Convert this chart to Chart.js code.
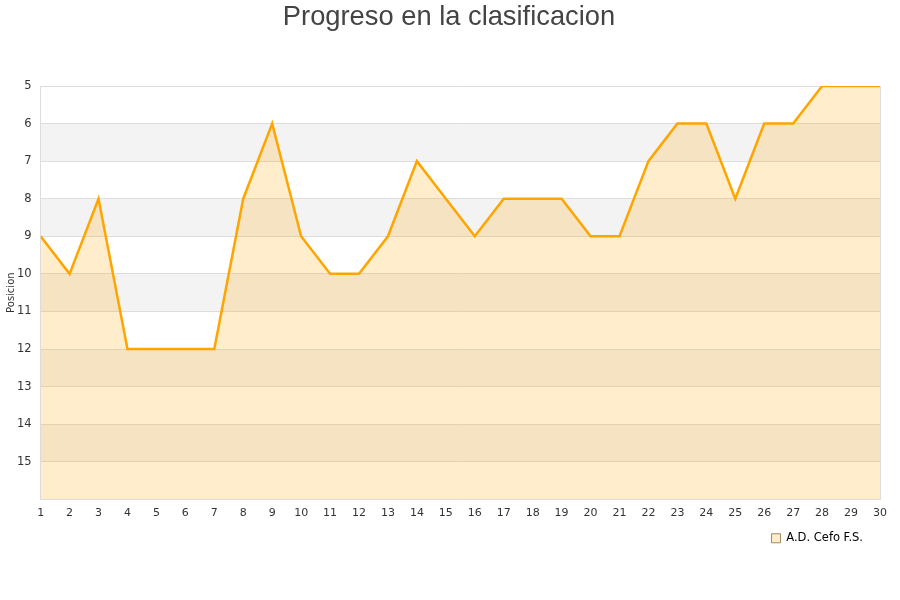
<!DOCTYPE html>
<html>
<head>
<meta charset="utf-8">
<script src="https://cdn.jsdelivr.net/npm/chart.js@4/dist/chart.umd.min.js"></script>
<style>
  html, body { margin: 0; padding: 0; background: #fff; }
  #wrap { width: 900px; height: 600px; }
</style>
</head>
<body>
<div id="wrap"><canvas id="chart"></canvas></div>
<script>
// Jornadas y posicion del equipo
const jornadas = [1,2,3,4,5,6,7,8,9,10,11,12,13,14,15,16,17,18,19,20,21,22,23,24,25,26,27,28,29,30];
const posicion = [9,10,8,12,12,12,12,8,6,9,10,10,9,7,8,9,8,8,8,9,9,7,6,6,8,6,6,5,5,5];
const equipo = 'A.D. Cefo F.S.';
const titulo = 'Progreso en la clasificacion';
const posMin = 5;
const posMax = 16;

// bandas grises alternas detras del grafico
const bandas = {
  id: 'bandas',
  beforeDraw(chart) {
    const { ctx, chartArea, scales } = chart;
    ctx.save();
    ctx.fillStyle = '#f3f3f3';
    for (let v = posMin + 1; v < posMax; v += 2) {
      const y1 = scales.y.getPixelForValue(v);
      const y2 = scales.y.getPixelForValue(v + 1);
      ctx.fillRect(chartArea.left, Math.min(y1, y2), chartArea.right - chartArea.left, Math.abs(y2 - y1));
    }
    ctx.restore();
  }
};

// titulo centrado en todo el lienzo, borde derecho y leyenda un poco mas arriba
const extras = {
  id: 'extras',
  afterLayout(chart) {
    chart.legend.top -= 3;
    chart.legend.bottom -= 3;
  },
  afterDraw(chart) {
    const { ctx, chartArea } = chart;
    ctx.save();
    ctx.strokeStyle = '#ddd';
    ctx.lineWidth = 1;
    ctx.beginPath();
    ctx.moveTo(chartArea.right + 0.5, chartArea.top);
    ctx.lineTo(chartArea.right + 0.5, chartArea.bottom);
    ctx.stroke();
    ctx.fillStyle = '#444';
    ctx.font = '27.3px "Liberation Sans"';
    ctx.textAlign = 'center';
    ctx.textBaseline = 'alphabetic';
    ctx.fillText(titulo, chart.width / 2 - 1, 25);
    ctx.restore();
  }
};

let ctx = document.getElementById('chart').getContext('2d');
let chart = new Chart(ctx, {
  type: 'line',
  data: {
    labels: jornadas,
    datasets: [{
      label: equipo,
      data: posicion,
      borderColor: '#ffa500',
      backgroundColor: 'rgba(255,165,0,0.2)',
      borderWidth: 2.5,
      pointRadius: 0,
      tension: 0,
      clip: 0,
      fill: 'start'
    }]
  },
  options: {
    responsive: true,
    maintainAspectRatio: false,
    animation: false,
    layout: { padding: { left: 5, right: 20, top: 86, bottom: 43 } },
    plugins: {
      title: { display: false },
      legend: {
        position: 'bottom',
        align: 'end',
        labels: {
          boxWidth: 9,
          boxHeight: 9,
          padding: 17,
          color: '#000',
          font: { family: 'DejaVu Sans', size: 11.5 },
          generateLabels(chart) {
            return [{
              text: equipo,
              fillStyle: 'rgba(255,165,0,0.2)',
              strokeStyle: '#a08860',
              lineWidth: 1,
              datasetIndex: 0
            }];
          }
        }
      },
      tooltip: { enabled: false }
    },
    scales: {
      x: {
        offset: false,
        grid: { display: false },
        border: { color: '#ddd' },
        ticks: { color: '#333', font: { family: 'DejaVu Sans', size: 11 }, maxRotation: 0, autoSkip: false, padding: -1 }
      },
      y: {
        reverse: true,
        min: posMin,
        max: posMax,
        grid: { color: '#ddd', drawTicks: false },
        border: { color: '#ddd' },
        title: { display: true, text: 'Posicion', color: '#333', font: { family: 'DejaVu Sans', size: 10 }, padding: { top: 0, bottom: -9 } },
        ticks: {
          stepSize: 1,
          padding: 9,
          color: '#333',
          font: { family: 'DejaVu Sans', size: 11.5 },
          callback: v => (v === posMax ? '' : v)
        }
      }
    }
  },
  plugins: [bandas, extras]
});
</script>
</body>
</html>
